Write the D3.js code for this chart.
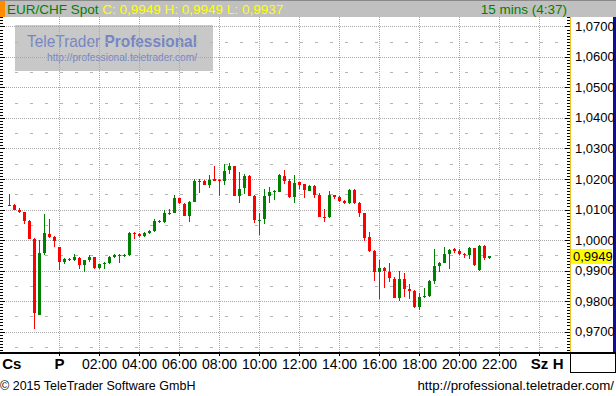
<!DOCTYPE html>
<html>
<head>
<meta charset="utf-8">
<script src="https://cdn.jsdelivr.net/npm/d3@7"></script>
<style>
  body { margin: 0; background: #fff; }
  svg { display: block; }
  text { font-family: "Liberation Sans", Arial, sans-serif; }
</style>
</head>
<body>
<div id="chart"></div>
<script>
// header texts
var symbol = "EUR/CHF Spot";
var lastClose = 0.9949, lastHigh = 0.9949, lastLow = 0.9937;
var intervalLabel = "15 mins (4:37)";

// 15 minute candles, first bar Thursday 21:30
var firstBar = new Date(Date.UTC(2015, 0, 15, 21, 30));
var barMinutes = 15;
var opens = [1.0113, 1.0116, 1.0097, 1.0093, 1.0064, 1.0004, 0.9753, 0.9957, 1.0020, 1.0011,
             0.9977, 0.9928, 0.9937, 0.9933, 0.9941, 0.9918, 0.9934, 0.9944, 0.9908, 0.9921,
             0.9924, 0.9944, 0.9952, 0.9947, 0.9950, 1.0024, 1.0021, 1.0013, 1.0023, 1.0030,
             1.0064, 1.0059, 1.0090, 1.0087, 1.0138, 1.0119, 1.0080, 1.0126, 1.0195, 1.0194,
             1.0179, 1.0199, 1.0198, 1.0192, 1.0228, 1.0241, 1.0145, 1.0169, 1.0211, 1.0145,
             1.0063, 1.0069, 1.0145, 1.0159, 1.0159, 1.0211, 1.0194, 1.0142, 1.0189, 1.0183,
             1.0162, 1.0178, 1.0149, 1.0076, 1.0076, 1.0148, 1.0142, 1.0129, 1.0122, 1.0165,
             1.0123, 1.0087, 1.0010, 0.9964, 0.9896, 0.9909, 0.9895, 0.9872, 0.9810, 0.9872,
             0.9840, 0.9833, 0.9780, 0.9812, 0.9816, 0.9866, 0.9915, 0.9925, 0.9955, 0.9970,
             0.9964, 0.9955, 0.9952, 0.9974, 0.9902, 0.9980, 0.9942];
var highs = [1.0152, 1.0118, 1.0104, 1.0093, 1.0066, 1.0007, 1.0000, 1.0086, 1.0069, 1.0013,
             0.9977, 0.9941, 0.9941, 0.9954, 0.9944, 0.9934, 0.9951, 0.9944, 0.9923, 0.9928,
             0.9947, 0.9954, 0.9954, 0.9954, 1.0026, 1.0027, 1.0024, 1.0027, 1.0034, 1.0069,
             1.0066, 1.0098, 1.0101, 1.0148, 1.0138, 1.0123, 1.0129, 1.0201, 1.0201, 1.0198,
             1.0214, 1.0244, 1.0201, 1.0250, 1.0254, 1.0244, 1.0224, 1.0216, 1.0214, 1.0148,
             1.0088, 1.0168, 1.0175, 1.0165, 1.0217, 1.0231, 1.0201, 1.0214, 1.0191, 1.0185,
             1.0181, 1.0181, 1.0153, 1.0102, 1.0161, 1.0148, 1.0145, 1.0132, 1.0168, 1.0168,
             1.0126, 1.0090, 1.0026, 0.9967, 0.9934, 0.9912, 0.9924, 0.9879, 0.9899, 0.9891,
             0.9856, 0.9836, 0.9826, 0.9843, 0.9869, 0.9971, 0.9928, 0.9978, 0.9971, 0.9974,
             0.9970, 0.9958, 0.9977, 0.9974, 0.9984, 0.9984, 0.9949];
var lows  = [1.0110, 1.0099, 1.0089, 1.0053, 1.0003, 0.9707, 0.9753, 0.9951, 1.0008, 0.9978,
             0.9901, 0.9922, 0.9931, 0.9931, 0.9904, 0.9896, 0.9928, 0.9904, 0.9904, 0.9904,
             0.9923, 0.9940, 0.9924, 0.9944, 0.9947, 1.0003, 1.0011, 1.0010, 1.0020, 1.0026,
             1.0056, 1.0056, 1.0083, 1.0087, 1.0118, 1.0080, 1.0060, 1.0126, 1.0155, 1.0179,
             1.0172, 1.0192, 1.0143, 1.0182, 1.0218, 1.0145, 1.0123, 1.0152, 1.0143, 1.0057,
             1.0016, 1.0054, 1.0120, 1.0132, 1.0156, 1.0185, 1.0138, 1.0123, 1.0168, 1.0139,
             1.0160, 1.0139, 1.0077, 1.0060, 1.0073, 1.0136, 1.0125, 1.0118, 1.0118, 1.0118,
             1.0077, 0.9998, 0.9960, 0.9866, 0.9807, 0.9843, 0.9863, 0.9810, 0.9800, 0.9813,
             0.9807, 0.9777, 0.9770, 0.9810, 0.9813, 0.9856, 0.9896, 0.9925, 0.9905, 0.9957,
             0.9951, 0.9942, 0.9938, 0.9915, 0.9899, 0.9935, 0.9937];
var closes = [1.0116, 1.0099, 1.0092, 1.0064, 1.0003, 0.9760, 0.9957, 1.0023, 1.0010, 0.9998,
             0.9928, 0.9938, 0.9934, 0.9944, 0.9919, 0.9934, 0.9944, 0.9908, 0.9921, 0.9924,
             0.9944, 0.9950, 0.9948, 0.9951, 1.0023, 1.0020, 1.0013, 1.0024, 1.0031, 1.0063,
             1.0059, 1.0089, 1.0087, 1.0138, 1.0120, 1.0080, 1.0125, 1.0194, 1.0192, 1.0182,
             1.0198, 1.0194, 1.0192, 1.0227, 1.0244, 1.0145, 1.0167, 1.0209, 1.0145, 1.0066,
             1.0066, 1.0145, 1.0158, 1.0162, 1.0214, 1.0195, 1.0142, 1.0188, 1.0182, 1.0163,
             1.0178, 1.0149, 1.0077, 1.0073, 1.0148, 1.0142, 1.0129, 1.0123, 1.0165, 1.0122,
             1.0087, 1.0008, 0.9964, 0.9896, 0.9909, 0.9899, 0.9876, 0.9810, 0.9872, 0.9840,
             0.9833, 0.9780, 0.9813, 0.9816, 0.9866, 0.9915, 0.9925, 0.9955, 0.9968, 0.9964,
             0.9954, 0.9952, 0.9974, 0.9919, 0.9980, 0.9942, 0.9949];

// axis values
var yTicks = [0.97, 0.98, 0.99, 1.00, 1.01, 1.02, 1.03, 1.04, 1.05, 1.06, 1.07];
var yDomain = [0.9633, 1.0731];
var xDomain = [new Date(Date.UTC(2015, 0, 15, 21, 1, 30)), new Date(Date.UTC(2015, 0, 17, 1, 31, 30))];
var hourTicks = ["02:00", "04:00", "06:00", "08:00", "10:00", "12:00", "14:00", "16:00", "18:00", "20:00", "22:00"];
var dayLabels = ["Cs", "P", "Sz", "H"];
var dayTimes = [new Date(Date.UTC(2015, 0, 15, 21, 37)), new Date(Date.UTC(2015, 0, 16, 0, 0)),
                new Date(Date.UTC(2015, 0, 17, 0, 0)), new Date(Date.UTC(2015, 0, 17, 0, 56))];

var width = 616, height = 396;
var plot = {left: 0, right: 570, top: 17, bottom: 352};

var hu = d3.formatLocale({decimal: ",", thousands: " ", grouping: [3], currency: ["", ""]});
var fmt = hu.format(".4f");
var parseHour = function(t) { return d3.utcParse("%Y-%m-%d %H:%M")("2015-01-16 " + t); };

var svg = d3.select("#chart")
  .append("svg")
    .attr("width", width)
    .attr("height", height);

var bars = opens.map(function(o, i) {
  return {time: d3.utcMinute.offset(firstBar, i * barMinutes), open: o, high: highs[i], low: lows[i], close: closes[i]};
});

var x = d3.scaleUtc().domain(xDomain).range([plot.left, plot.right]);
var y = d3.scaleLinear().domain(yDomain).range([plot.bottom, plot.top]);
var py = function(v) { return Math.round(y(v)) + 0.5; };
var px = function(t) { return Math.round(x(t) - 0.5) + 0.5; };

// header bar
svg.append("rect").attr("x", 0).attr("y", 0).attr("width", width).attr("height", plot.top).attr("fill", "#c0c0c0");
svg.append("rect").attr("x", 0).attr("y", 0).attr("width", width).attr("height", 1).attr("fill", "#8a8a8a");
svg.append("rect").attr("x", 0).attr("y", 1).attr("width", 5).attr("height", plot.top - 1).attr("fill", "#ff8c00");

var title = svg.append("text")
    .attr("x", 7).attr("y", 14)
    .style("font-size", "13.5px");
title.append("tspan").attr("fill", "#008000").text(symbol + " ");
title.append("tspan").attr("fill", "#ffff00")
    .text("C: " + fmt(lastClose) + " H: " + fmt(lastHigh) + " L: " + fmt(lastLow));

svg.append("text")
    .attr("x", 567).attr("y", 14)
    .attr("text-anchor", "end")
    .attr("fill", "#008000")
    .style("font-size", "13.5px")
    .text(intervalLabel);

// watermark
svg.append("rect").attr("x", 15).attr("y", 25).attr("width", 198).attr("height", 46).attr("fill", "#c8c8c8");
var wm = svg.append("text")
    .attr("x", 27).attr("y", 47)
    .attr("fill", "#7686c2")
    .attr("textLength", 170)
    .attr("lengthAdjust", "spacingAndGlyphs")
    .style("font-size", "17px");
wm.append("tspan").text("TeleTrader ");
wm.append("tspan").style("font-weight", "bold").text("Professional");
svg.append("text")
    .attr("x", 47).attr("y", 61)
    .attr("fill", "#7686c2")
    .attr("textLength", 150)
    .attr("lengthAdjust", "spacingAndGlyphs")
    .style("font-size", "11.5px")
    .text("http://professional.teletrader.com/");

// grid
var grid = svg.append("g");
var minor = d3.range(0.965, 1.07, 0.01);
grid.selectAll(".minor")
  .data(minor)
  .enter().append("line")
    .attr("x1", plot.left).attr("x2", plot.right)
    .attr("y1", py).attr("y2", py)
    .attr("stroke", "#b4b4b4")
    .attr("stroke-dasharray", "3,12");
grid.selectAll(".hgrid")
  .data(yTicks)
  .enter().append("line")
    .attr("x1", plot.left).attr("x2", plot.right)
    .attr("y1", py).attr("y2", py)
    .attr("stroke", "#a8a8a8")
    .attr("stroke-dasharray", "1,1");

var gridTimes = [dayTimes[1]].concat(hourTicks.map(parseHour), [dayTimes[2]]);
grid.selectAll(".vgrid")
  .data(gridTimes)
  .enter().append("line")
    .attr("x1", px).attr("x2", px)
    .attr("y1", plot.top).attr("y2", plot.bottom)
    .attr("stroke", "#a8a8a8")
    .attr("stroke-dasharray", "1,1");

// small ticks on left edge and before the price axis
var fine = d3.range(964, 1074).map(function(d) { return d / 1000; });
var ticks = svg.append("g").attr("shape-rendering", "crispEdges");
ticks.selectAll(".lt")
  .data(fine)
  .enter().append("line")
    .attr("x1", 0)
    .attr("x2", function(d) { return Math.round(d * 1000) % 10 === 0 ? 5 : 3; })
    .attr("y1", py).attr("y2", py)
    .attr("stroke", "#000");
ticks.selectAll(".rt")
  .data(fine)
  .enter().append("line")
    .attr("x1", function(d) { return Math.round(d * 1000) % 10 === 0 ? plot.right - 5 : plot.right - 3; })
    .attr("x2", plot.right)
    .attr("y1", py).attr("y2", py)
    .attr("stroke", "#000");

// candles
var candle = svg.selectAll(".candle")
  .data(bars)
  .enter().append("g")
    .attr("class", "candle")
    .attr("shape-rendering", "crispEdges")
    .attr("fill", function(d) { return d.close >= d.open ? "#008000" : "#ff0000"; });

candle.append("rect")
    .attr("x", function(d) { return Math.round(x(d.time) - 0.5); })
    .attr("width", 1)
    .attr("y", function(d) { return Math.round(y(d.high)); })
    .attr("height", function(d) { return Math.max(1, Math.round(y(d.low)) - Math.round(y(d.high))); });

candle.append("rect")
    .attr("x", function(d) { return Math.round(x(d.time) - 0.5) - 1; })
    .attr("width", 3)
    .attr("y", function(d) { return Math.round(y(Math.max(d.open, d.close))); })
    .attr("height", function(d) {
      return Math.max(1, Math.round(y(Math.min(d.open, d.close))) - Math.round(y(Math.max(d.open, d.close))));
    });

// price axis panel
svg.append("line")
    .attr("x1", plot.right + 0.5).attr("x2", plot.right + 0.5)
    .attr("y1", plot.top).attr("y2", plot.bottom)
    .attr("stroke", "#f0c020");
svg.append("rect")
    .attr("x", 613).attr("y", plot.top).attr("width", 3).attr("height", plot.bottom - plot.top)
    .attr("fill", "#10108c");

svg.append("g")
  .selectAll("text")
  .data(yTicks)
  .enter().append("text")
    .attr("x", 575)
    .attr("y", function(d) { return y(d) + 4.5; })
    .style("font-size", "13px")
    .text(fmt);

// last price marker
svg.append("rect")
    .attr("x", 571).attr("width", 41)
    .attr("y", Math.round(y(lastClose)) - 7).attr("height", 15)
    .attr("fill", "#ffff00");
svg.append("text")
    .attr("x", 573)
    .attr("y", y(lastClose) + 5)
    .style("font-size", "13px")
    .text(fmt(lastClose));

// time axis
svg.append("rect").attr("x", 0).attr("y", plot.bottom).attr("width", width).attr("height", 2).attr("fill", "#000");
svg.append("line").attr("x1", plot.right + 0.5).attr("x2", plot.right + 0.5).attr("y1", plot.bottom).attr("y2", 373).attr("stroke", "#000");
svg.append("line").attr("x1", 615.5).attr("x2", 615.5).attr("y1", plot.bottom).attr("y2", 373).attr("stroke", "#000");
svg.append("line").attr("x1", plot.right).attr("x2", width).attr("y1", 372.5).attr("y2", 372.5).attr("stroke", "#000");

var axis = svg.append("g");
axis.selectAll(".xt")
  .data(gridTimes)
  .enter().append("line")
    .attr("x1", px).attr("x2", px)
    .attr("y1", plot.bottom + 2).attr("y2", plot.bottom + 4)
    .attr("stroke", "#000");

axis.selectAll(".hl")
  .data(hourTicks)
  .enter().append("text")
    .attr("x", function(d) { return x(parseHour(d)); })
    .attr("y", 369)
    .attr("text-anchor", "middle")
    .style("font-size", "14px")
    .text(function(d) { return d; });

axis.selectAll(".dl")
  .data(dayLabels)
  .enter().append("text")
    .attr("x", function(d, i) { return x(dayTimes[i]); })
    .attr("y", 369)
    .attr("text-anchor", "middle")
    .style("font-size", "15px")
    .style("font-weight", "bold")
    .text(function(d) { return d; });

// footer
svg.append("text")
    .attr("x", 0).attr("y", 390)
    .style("font-size", "12.5px")
    .text("\u00a9 2015 TeleTrader Software GmbH");
svg.append("text")
    .attr("x", 614).attr("y", 390)
    .attr("text-anchor", "end")
    .style("font-size", "13.3px")
    .text("http://professional.teletrader.com/");
</script>
</body>
</html>
